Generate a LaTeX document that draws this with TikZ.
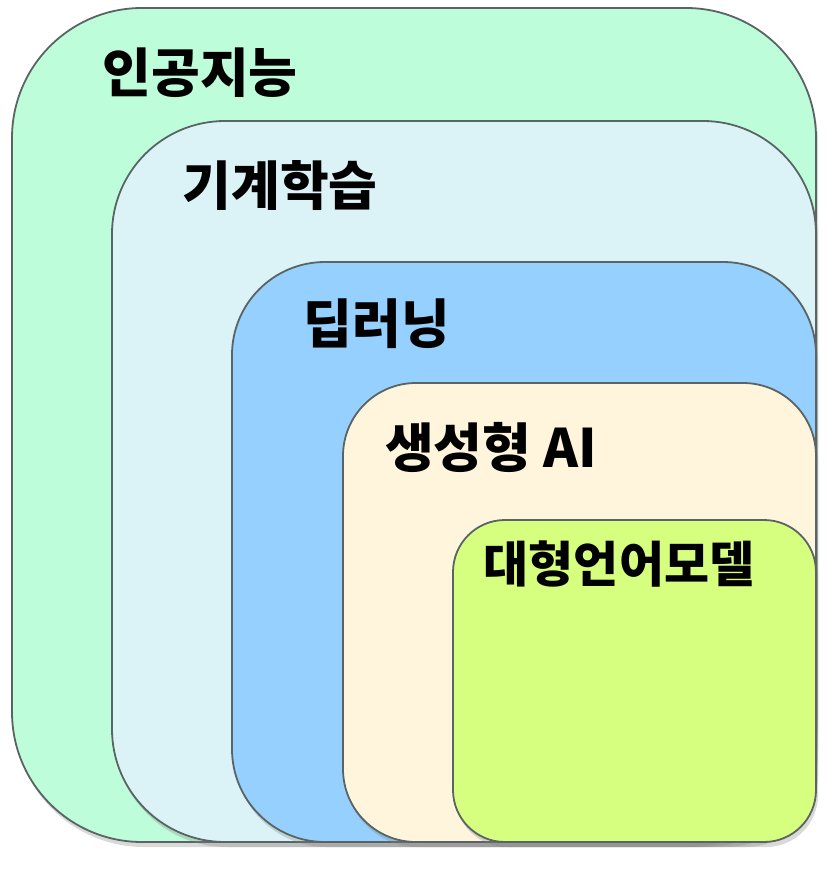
\documentclass[tikz,border=0pt]{standalone}
\usepackage{fontspec}
\setmainfont{Noto Sans CJK KR}
\usepackage{xcolor}
\usepackage{tikz}
\usetikzlibrary{shadows}
\definecolor{edgegray}{RGB}{90,100,100}
\definecolor{aifill}{RGB}{190,253,218}
\definecolor{mlfill}{RGB}{219,243,247}
\definecolor{dlfill}{RGB}{150,208,255}
\definecolor{genfill}{RGB}{255,244,220}
\definecolor{llmfill}{RGB}{215,255,127}

\begin{document}
\begin{tikzpicture}[x=1pt, y=-1pt,
  layer/.style={draw=edgegray, line width=1.8pt, inner sep=0pt,
    drop shadow={opacity=0.3, shadow xshift=2pt, shadow yshift=-5pt}},
  title/.style={font=\fontsize{53}{56}\selectfont\bfseries, text=black, inner sep=0pt},
]
  \useasboundingbox (0,0) rectangle (828,882);

  % nested fields, outermost first
  \node[layer, fill=aifill, minimum width=804pt, minimum height=834pt,
    rounded corners=130pt] (ai) at (414,425) {};
  \node[layer, fill=mlfill, minimum width=704pt, minimum height=721pt,
    rounded corners=113pt] (ml) at (464,481.5) {};
  \node[layer, fill=dlfill, minimum width=584pt, minimum height=580pt,
    rounded corners=93pt] (dl) at (524,552) {};
  \node[layer, fill=genfill, minimum width=473pt, minimum height=459pt,
    rounded corners=73pt] (gen) at (579.5,612.5) {};
  \node[layer, fill=llmfill, minimum width=363pt, minimum height=322pt,
    rounded corners=52pt] (llm) at (634.5,681) {};

  % titles
  \node[title] (aititle) at (200,73) {인공지능};
  \node[title] (mltitle) at (280,186) {기계학습};
  \node[title] (dltitle) at (377,324) {딥러닝};
  \node[title] (gentitle) at (491,447) {생성형 AI};
  \node[title, font=\fontsize{49}{52}\selectfont\bfseries] (llmtitle) at (619,564) {대형언어모델};
\end{tikzpicture}
\end{document}
